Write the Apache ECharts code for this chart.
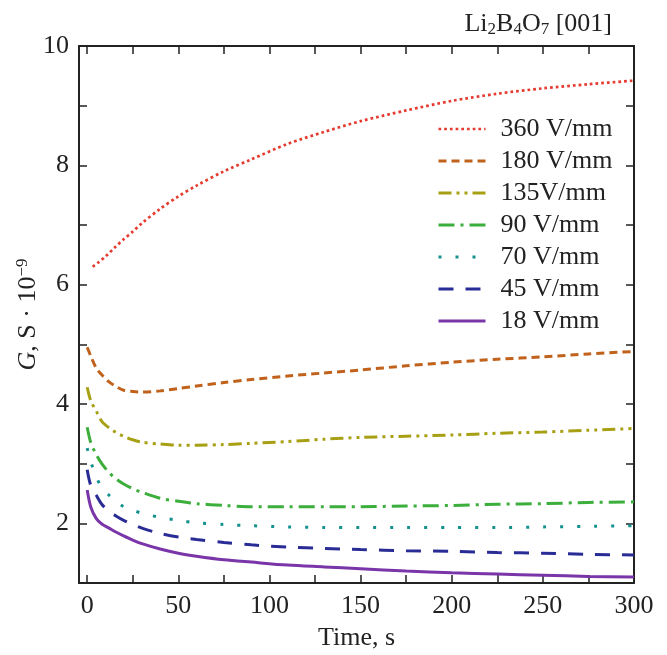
<!DOCTYPE html>
<html><head><meta charset="utf-8">
<script src="https://cdn.jsdelivr.net/npm/echarts@6/dist/echarts.min.js"></script>
<style>html,body{margin:0;padding:0;background:#fff}#c{width:667px;height:655px}</style>
</head><body><div id="c"></div>
<script>
const seriesNames = ['360 V/mm','180 V/mm','135V/mm','90 V/mm','70 V/mm','45 V/mm','18 V/mm'];
const time360 = [3,6,10,15,20,25,30,40,50,60,75,90,110,130,150,175,200,225,250,275,300];
const g360 = [6.30,6.37,6.47,6.62,6.76,6.89,7.03,7.27,7.48,7.66,7.90,8.10,8.36,8.56,8.74,8.92,9.08,9.20,9.29,9.36,9.42];
const timeCommon = [0,2,5,8,12,16,20,25,30,40,50,60,75,90,110,130,150,175,200,225,250,275,300];
const g180 = [4.95,4.80,4.60,4.49,4.37,4.29,4.23,4.21,4.20,4.22,4.26,4.30,4.36,4.41,4.47,4.52,4.57,4.64,4.70,4.75,4.79,4.84,4.88];
const g135 = [4.28,4.05,3.88,3.71,3.60,3.52,3.46,3.40,3.36,3.33,3.31,3.31,3.32,3.34,3.37,3.41,3.44,3.46,3.48,3.51,3.53,3.56,3.59];
const g90  = [3.61,3.35,3.15,3.00,2.85,2.74,2.66,2.58,2.52,2.42,2.37,2.33,2.30,2.28,2.28,2.28,2.28,2.29,2.30,2.32,2.33,2.35,2.36];
const g70  = [3.26,3.03,2.78,2.60,2.47,2.36,2.28,2.22,2.17,2.10,2.05,2.01,1.98,1.96,1.94,1.93,1.93,1.93,1.93,1.93,1.94,1.95,1.96];
const g45  = [2.90,2.63,2.47,2.32,2.20,2.12,2.05,1.98,1.92,1.83,1.77,1.73,1.68,1.64,1.60,1.58,1.56,1.54,1.53,1.51,1.50,1.48,1.47];
const g18  = [2.56,2.27,2.08,1.99,1.92,1.85,1.79,1.72,1.66,1.57,1.50,1.45,1.39,1.35,1.30,1.27,1.24,1.20,1.17,1.15,1.13,1.11,1.10];
const xTicks = [0,25,50,75,100,125,150,175,200,225,250,275,300];
const xLabels = [0,50,100,150,200,250,300];
const yTicks = [1,2,3,4,5,6,7,8,9,10];
const yLabels = [2,4,6,8,10];

const FONT = 'Liberation Serif';
const TXT = '#222';
const zip = (t, g) => t.map((v, i) => [v, g[i]]);

const styles = [
  {color:'#e53a2e', width:2.7, type:[2.7,3.0]},
  {color:'#c0621c', width:3, type:[8,5]},
  {color:'#a8a014', width:3, type:[13,5,3,5,3,5]},
  {color:'#3cae3c', width:3, type:[16,6,3,6]},
  {color:'#13918f', width:3, type:[3,14]},
  {color:'#2a2c96', width:3, type:[15,12]},
  {color:'#7a35a8', width:3, type:'solid'}
];
const dataSets = [zip(time360,g360), zip(timeCommon,g180), zip(timeCommon,g135), zip(timeCommon,g90), zip(timeCommon,g70), zip(timeCommon,g45), zip(timeCommon,g18)];

const axisLineStyle = {color:TXT, width:2};
const chart = echarts.init(document.getElementById('c'));
chart.setOption({
  animation:false,
  title:{
    text:'{n|Li}{s|2}{n|B}{s|4}{n|O}{s|7}{n| [001]}',
    right:50, top:6,
    textStyle:{fontWeight:'normal', rich:{
      n:{fontFamily:FONT, fontSize:26, color:TXT, fontWeight:'normal'},
      s:{fontFamily:FONT, fontSize:17, color:TXT, fontWeight:'normal', padding:[10,0,0,0]}
    }}
  },
  grid:{left:79, right:33, top:46, bottom:72, containLabel:false, outerBoundsMode:'none'},
  legend:{
    show:true, orient:'vertical', left:437, top:116, padding:0, itemWidth:47, itemHeight:14, itemGap:6,
    textStyle:{fontFamily:FONT, fontSize:26, color:TXT, padding:[0,0,0,10]},
    data: seriesNames.map((n,i)=>({
      name:n,
      lineStyle:{color:styles[i].color, width:styles[i].width, type:styles[i].type},
      itemStyle:{color:'rgba(0,0,0,0)', borderWidth:0, opacity:0}
    }))
  },
  xAxis:[{
    type:'value', min:-4.5, max:300, position:'bottom',
    name:'Time, s', nameLocation:'middle', nameGap:42, nameMoveOverlap:false,
    nameTextStyle:{fontFamily:FONT, fontSize:26, color:TXT},
    axisLine:{onZero:false, lineStyle:axisLineStyle},
    axisTick:{inside:true, length:8, customValues:xTicks, lineStyle:{color:TXT, width:1.5}},
    axisLabel:{customValues:xLabels, fontFamily:FONT, fontSize:26, color:TXT, margin:10},
    splitLine:{show:false}
  },{
    type:'value', min:-4.5, max:300, position:'top',
    axisLine:{onZero:false, lineStyle:axisLineStyle},
    axisTick:{inside:true, length:8, customValues:xTicks, lineStyle:{color:TXT, width:1.5}},
    axisLabel:{show:false}, splitLine:{show:false}
  }],
  yAxis:[{
    type:'value', min:1, max:10, interval:1, position:'left',
    name:'{i|G}{n|, S · 10}{sup|−9}', nameLocation:'middle', nameGap:36, nameMoveOverlap:false,
    nameTextStyle:{rich:{
      i:{fontFamily:FONT, fontSize:26, color:TXT, fontStyle:'italic'},
      n:{fontFamily:FONT, fontSize:26, color:TXT},
      sup:{fontFamily:FONT, fontSize:17, color:TXT, padding:[0,0,12,0]}
    }},
    axisLine:{onZero:false, lineStyle:axisLineStyle},
    axisTick:{inside:true, length:8, customValues:yTicks, lineStyle:{color:TXT, width:1.5}},
    axisLabel:{customValues:yLabels, fontFamily:FONT, fontSize:26, color:TXT, margin:10},
    splitLine:{show:false}
  },{
    type:'value', min:1, max:10, interval:1, position:'right',
    axisLine:{onZero:false, lineStyle:axisLineStyle},
    axisTick:{inside:true, length:8, customValues:yTicks, lineStyle:{color:TXT, width:1.5}},
    axisLabel:{show:false}, splitLine:{show:false}
  }],
  series: seriesNames.map((n,i)=>({
    name:n, type:'line', data:dataSets[i], smooth:0.3, showSymbol:false, symbol:'none',
    xAxisIndex:0, yAxisIndex:0,
    lineStyle:{color:styles[i].color, width:styles[i].width, type:styles[i].type, cap:'butt'},
    itemStyle:{color:styles[i].color}
  }))
});
</script></body></html>
